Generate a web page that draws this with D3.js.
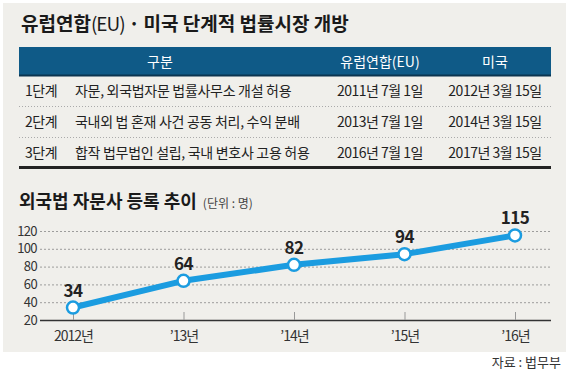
<!DOCTYPE html>
<html>
<head>
<meta charset="utf-8">
<script src="https://cdn.jsdelivr.net/npm/d3@7"></script>
<style>
    body { margin: 0; background: #fff; }
    svg text { font-family: "Noto Sans CJK KR", "Noto Sans", sans-serif; }
</style>
</head>
<body>
<svg id="chart" width="570" height="374"></svg>
<script>
// table data
var tableHeaders = ['구분', '유럽연합(EU)', '미국'];
var stages = ['1단계', '2단계', '3단계'];
var stageDesc = [
    '자문, 외국법자문 법률사무소 개설 허용',
    '국내외 법 혼재 사건 공동 처리, 수익 분배',
    '합작 법무법인 설립, 국내 변호사 고용 허용'
];
var euDates = ['2011년 7월 1일', '2013년 7월 1일', '2016년 7월 1일'];
var usDates = ['2012년 3월 15일', '2014년 3월 15일', '2017년 3월 15일'];

// line chart data
var years = ['2012년', '\u201913년', '\u201914년', '\u201915년', '\u201916년'];
var firms = [34, 64, 82, 94, 115];
var yTicks = [20, 40, 60, 80, 100, 120];

var svg = d3.select('#chart');

// panel
svg.append('rect')
    .attr('x', 3).attr('y', 3)
    .attr('width', 563).attr('height', 349)
    .attr('fill', '#f0efeb');

// title
var title = svg.append('text')
    .attr('x', 21).attr('y', 31)
    .attr('font-size', 19)
    .attr('font-weight', 'bold')
    .attr('fill', '#1a1a1a');
title.append('tspan').text('유럽연합');
title.append('tspan').attr('font-weight', 'normal').attr('letter-spacing', -1).text('(EU)');
title.append('tspan').text('\u2009·\u2009미국 단계적 법률시장 개방');

// TABLE
var colCenters = [160, 380, 495];
var rowY = [91, 122, 153];

svg.append('rect')
    .attr('x', 19).attr('y', 47)
    .attr('width', 532).attr('height', 28)
    .attr('fill', '#0f5a87');
svg.append('line')
    .attr('x1', 19).attr('x2', 551)
    .attr('y1', 75.5).attr('y2', 75.5)
    .attr('stroke', '#0b3550').attr('stroke-width', 2);

svg.selectAll('.th')
    .data(tableHeaders)
    .enter()
    .append('text')
    .attr('class', 'th')
    .attr('x', function(d, i) { return colCenters[i]; })
    .attr('y', 62)
    .attr('dy', '0.35em')
    .attr('text-anchor', 'middle')
    .attr('font-size', 14)
    .attr('fill', '#fff')
    .text(function(d) { return d; });

var rows = svg.selectAll('.row')
    .data(stages)
    .enter()
    .append('g')
    .attr('class', 'row')
    .attr('transform', function(d, i) { return 'translate(0,' + rowY[i] + ')'; });

rows.append('text')
    .attr('x', 25).attr('dy', '0.35em')
    .attr('font-size', 14).attr('fill', '#222')
    .attr('letter-spacing', -0.5)
    .text(function(d) { return d; });
rows.append('text')
    .attr('x', 75).attr('dy', '0.35em')
    .attr('font-size', 14).attr('fill', '#222')
    .attr('letter-spacing', -0.3)
    .text(function(d, i) { return stageDesc[i]; });
rows.append('text')
    .attr('x', colCenters[1]).attr('dy', '0.35em')
    .attr('text-anchor', 'middle')
    .attr('font-size', 14).attr('fill', '#222')
    .attr('letter-spacing', -0.5)
    .text(function(d, i) { return euDates[i]; });
rows.append('text')
    .attr('x', colCenters[2]).attr('dy', '0.35em')
    .attr('text-anchor', 'middle')
    .attr('font-size', 14).attr('fill', '#222')
    .attr('letter-spacing', -0.5)
    .text(function(d, i) { return usDates[i]; });

// dotted separators
svg.selectAll('.sep')
    .data(rowY.slice(0, -1))
    .enter()
    .append('line')
    .attr('x1', 19).attr('x2', 551)
    .attr('y1', function(d) { return d + 15.5; })
    .attr('y2', function(d) { return d + 15.5; })
    .attr('stroke', '#aaa')
    .attr('stroke-dasharray', '1,2');

svg.append('line')
    .attr('x1', 19).attr('x2', 551)
    .attr('y1', 167.5).attr('y2', 167.5)
    .attr('stroke', '#222').attr('stroke-width', 3);

// LINE CHART
var sub = svg.append('text')
    .attr('x', 19).attr('y', 208)
    .attr('fill', '#1a1a1a');
sub.append('tspan')
    .attr('font-size', 18).attr('font-weight', 'bold')
    .text('외국법 자문사 등록 추이');
sub.append('tspan')
    .attr('font-size', 12).attr('fill', '#444').attr('dx', 6)
    .text('(단위 : 명)');

var x = d3.scalePoint()
    .domain(years)
    .range([73, 515]);

var y = d3.scaleLinear()
    .domain([20, 120])
    .range([320, 231]);

// y axis with dashed grid
var yAxis = svg.append('g')
    .attr('class', 'y axis')
    .attr('transform', 'translate(40,0)')
    .call(d3.axisLeft(y)
        .tickValues(yTicks)
        .tickSizeInner(-510)
        .tickSizeOuter(0)
        .tickPadding(3));
yAxis.select('.domain').remove();
yAxis.selectAll('.tick line')
    .attr('stroke', '#888')
    .attr('stroke-dasharray', '2,2')
    .attr('stroke-width', 0.8);
yAxis.selectAll('.tick:first-of-type line').remove();
yAxis.selectAll('.tick text')
    .attr('font-size', 13)
    .attr('fill', '#333')
    .attr('letter-spacing', -0.6);

// x axis
var xAxis = svg.append('g')
    .attr('class', 'x axis')
    .attr('transform', 'translate(0,' + y(20) + ')')
    .call(d3.axisBottom(x)
        .tickSizeInner(-8)
        .tickSizeOuter(0)
        .tickPadding(11));
xAxis.select('.domain')
    .attr('d', 'M40,0.5H551')
    .attr('stroke', '#333')
    .attr('stroke-width', 1.5);
xAxis.selectAll('.tick line')
    .attr('stroke', '#999');
xAxis.selectAll('.tick text')
    .attr('font-size', 14)
    .attr('fill', '#333')
    .attr('letter-spacing', -1);

var line = d3.line()
    .x(function(d, i) { return x(years[i]); })
    .y(function(d) { return y(d); });

svg.append('path')
    .datum(firms)
    .attr('d', line)
    .attr('fill', 'none')
    .attr('stroke', '#1b9ce0')
    .attr('stroke-width', 6)
    .attr('stroke-linejoin', 'round');

svg.selectAll('.dot')
    .data(firms)
    .enter()
    .append('circle')
    .attr('class', 'dot')
    .attr('cx', function(d, i) { return x(years[i]); })
    .attr('cy', function(d) { return y(d); })
    .attr('r', 6)
    .attr('fill', '#fff')
    .attr('stroke', '#1b9ce0')
    .attr('stroke-width', 2.5);

svg.selectAll('.val')
    .data(firms)
    .enter()
    .append('text')
    .attr('class', 'val')
    .attr('x', function(d, i) { return x(years[i]); })
    .attr('y', function(d) { return y(d) - 11; })
    .attr('text-anchor', 'middle')
    .attr('font-size', 17)
    .attr('font-weight', 'bold')
    .attr('fill', '#222')
    .attr('letter-spacing', -0.5)
    .text(function(d) { return d; });

// source
svg.append('text')
    .attr('x', 561).attr('y', 367)
    .attr('text-anchor', 'end')
    .attr('font-size', 13)
    .attr('fill', '#333')
    .text('자료 : 법무부');
</script>
</body>
</html>
